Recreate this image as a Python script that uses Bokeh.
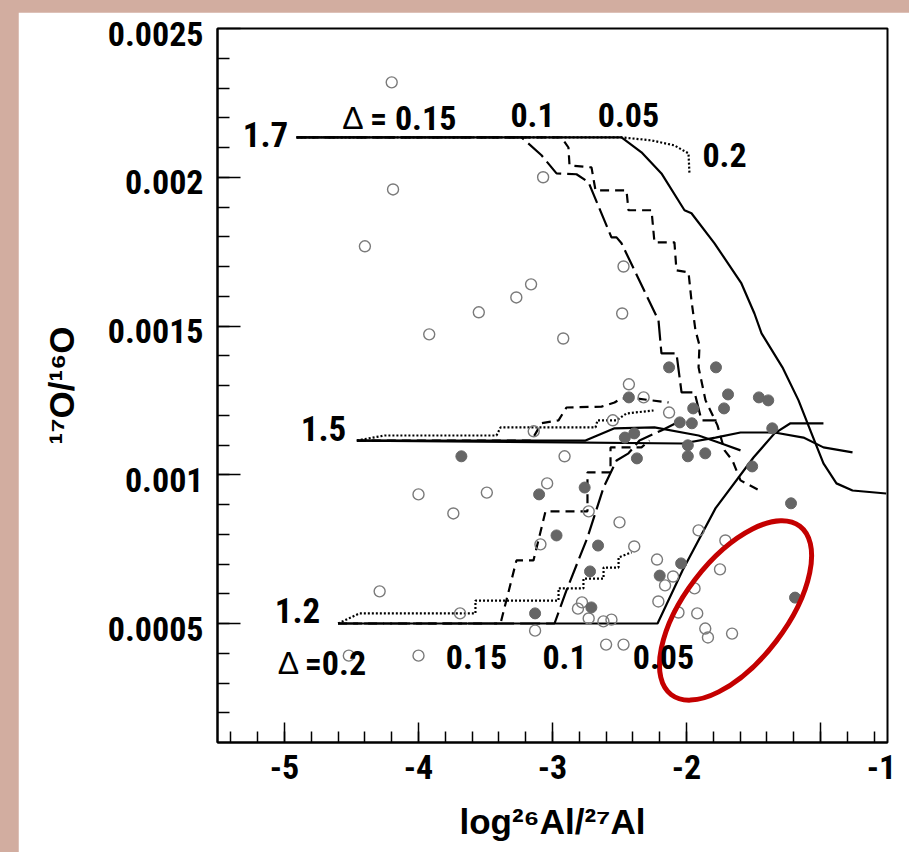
import math
from bokeh.plotting import figure
from bokeh.models import Range1d, FixedTicker, CustomJSTickFormatter, Label, LinearAxis
from bokeh.layouts import column
from bokeh.embed import file_html
from bokeh.resources import INLINE

# ---------------- data ----------------
x_major_ticks = [-5, -4, -3, -2, -1]
x_tick_labels = ["-5", "-4", "-3", "-2", "-1"]
y_major_ticks = [0.0005, 0.001, 0.0015, 0.002, 0.0025]
y_tick_labels = ["0.0005", "0.001", "0.0015", "0.002", "0.0025"]

# model curves starting at 17O/16O labelled 1.7
top_solid_x = [-4.91, -2.485, -2.336, -2.187, -2.015, -1.963, -1.791, -1.590, -1.493, -1.440, -1.284, -1.164, -1.067, -0.978, -0.881, -0.761, -0.51]
top_solid_y = [0.002134, 0.002134, 0.002084, 0.002013, 0.001889, 0.001879, 0.001778, 0.001643, 0.001542, 0.001475, 0.001361, 0.00125, 0.001139, 0.001038, 0.000971, 0.000947, 0.000937]
top_dotted_x = [-4.91, -2.485, -2.261, -2.090, -1.985, -1.978]
top_dotted_y = [0.002134, 0.002134, 0.002124, 0.002107, 0.00208, 0.002013]
top_longdash_x = [-4.91, -3.231, -3.082, -2.970, -2.821, -2.731, -2.560, -2.522, -2.485, -2.388, -2.209, -2.187, -2.075, -2.037, -1.940, -1.888, -1.776]
top_longdash_y = [0.002134, 0.002134, 0.002074, 0.002013, 0.00201, 0.001983, 0.001798, 0.001798, 0.001778, 0.001687, 0.001519, 0.001408, 0.001408, 0.001277, 0.001277, 0.001183, 0.001183]
top_shortdash_x = [-4.91, -2.933, -2.881, -2.873, -2.709, -2.679, -2.448, -2.433, -2.261, -2.239, -2.090, -2.075, -1.985, -1.963, -1.933, -1.903, -1.910, -1.858, -1.769, -1.716, -1.657, -1.597, -1.455]
top_shortdash_y = [0.002134, 0.002134, 0.0021, 0.00204, 0.002033, 0.001956, 0.001956, 0.001889, 0.001889, 0.001781, 0.001781, 0.001687, 0.00168, 0.001586, 0.001485, 0.001435, 0.001361, 0.00125, 0.001166, 0.001082, 0.001048, 0.000981, 0.000947]

# curves starting at 1.5
mid_solid_x = [-4.46, -2.03, -1.784, -1.597, -1.343, -1.127, -0.978, -0.761]
mid_solid_y = [0.001115, 0.001105, 0.001125, 0.001142, 0.001142, 0.001125, 0.001092, 0.001075]
mid_solid2_x = [-4.46, -2.754, -2.537, -2.239, -1.910, -1.739, -1.597]
mid_solid2_y = [0.001115, 0.001115, 0.001156, 0.001159, 0.001132, 0.001105, 0.001082]
mid_shortdash_x = [-4.46, -3.157, -3.082, -2.955, -2.896, -2.634, -2.537, -2.485, -2.388, -2.134]
mid_shortdash_y = [0.001115, 0.001115, 0.001173, 0.001183, 0.001226, 0.001229, 0.001243, 0.001257, 0.001257, 0.001243]
mid_dotted_x = [-4.46, -4.254, -3.418, -3.388, -2.679, -2.664, -2.522, -2.448, -2.246]
mid_dotted_y = [0.001115, 0.001132, 0.001132, 0.001159, 0.001159, 0.001183, 0.001183, 0.001206, 0.001216]

# curves starting at 1.2
low_solid_x = [-4.60, -2.216, -2.03, -1.784, -1.5, -1.343, -1.224, -0.978]
low_solid_y = [0.0005, 0.0005, 0.000678, 0.000887, 0.001058, 0.001139, 0.001173, 0.001173]
low_longdash_x = [-4.60, -2.985, -2.896, -2.739, -2.619, -2.522, -2.433, -2.351, -2.187, -2.037]
low_longdash_y = [0.0005, 0.0005, 0.000611, 0.000789, 0.000957, 0.001048, 0.001072, 0.001115, 0.001149, 0.001183]
low_shortdash_x = [-4.60, -3.388, -3.269, -3.142, -3.052, -2.739, -2.739, -2.567, -2.567, -2.336, -2.276]
low_shortdash_y = [0.0005, 0.0005, 0.000712, 0.000712, 0.000877, 0.000877, 0.001008, 0.001008, 0.001092, 0.001092, 0.001115]
low_dotted_x = [-4.60, -4.440, -3.575, -3.575, -2.955, -2.955, -2.769, -2.769, -2.619, -2.619, -2.507, -2.507, -2.410]
low_dotted_y = [0.0005, 0.000534, 0.000534, 0.000577, 0.000577, 0.000618, 0.000618, 0.000651, 0.000651, 0.000688, 0.000688, 0.000722, 0.000739]

# measured grains
open_x = [-4.20, -4.19, -4.40, -3.07, -2.47, -3.16, -3.27, -3.92, -3.55, -2.92, -2.48, -2.43, -2.32, -2.13,
          -3.14, -2.91, -3.04, -3.49, -4.00, -3.74, -2.73, -2.50, -1.91, -3.09, -2.39, -4.29, -1.71, -2.22,
          -2.10, -2.16, -1.75, -1.94, -2.21, -2.06, -1.92, -2.81, -2.78, -2.73, -2.62, -2.56, -3.13, -3.69,
          -1.86, -1.84, -1.66, -2.60, -2.47, -4.00, -4.52, -2.55]
open_y = [0.002319, 0.001959, 0.001768, 0.00200, 0.00170, 0.00164, 0.001596, 0.001472, 0.001546, 0.001458, 0.001542, 0.001304, 0.00126, 0.001209,
          0.001146, 0.001062, 0.000971, 0.00094, 0.000934, 0.00087, 0.000877, 0.00084, 0.000813, 0.000766, 0.000759, 0.000608, 0.000779, 0.000715,
          0.000658, 0.000628, 0.000682, 0.000618, 0.000574, 0.000537, 0.000534, 0.00055, 0.000571, 0.000517, 0.000507, 0.000513, 0.000476, 0.000534,
          0.000483, 0.000453, 0.000466, 0.000429, 0.000429, 0.000392, 0.000392, 0.001183]
filled_x = [-3.68, -2.13, -1.78, -1.69, -1.72, -1.46, -1.39, -2.43, -1.95, -2.46, -2.39, -2.05, -1.96, -1.99, -1.99,
            -1.86, -2.37, -1.51, -1.36, -3.10, -2.76, -1.22, -2.97, -2.66, -2.72, -2.20, -2.04, -2.71, -3.13, -1.19]
filled_y = [0.001062, 0.001361, 0.001361, 0.00127, 0.001223, 0.00126, 0.00125, 0.00126, 0.001223, 0.001125, 0.001139, 0.001176, 0.001173, 0.001099, 0.001062,
            0.001072, 0.001055, 0.001028, 0.001156, 0.000934, 0.000957, 0.000904, 0.000796, 0.000762, 0.000675, 0.000661, 0.000702, 0.000554, 0.000534, 0.000587]

# ---------------- styling ----------------
NARROW = "'Roboto Condensed', 'Liberation Sans', sans-serif"
WIDE = "'Liberation Sans', Arial, sans-serif"
BG = "#d2ada0"
Y_MIN, Y_MAX = 0.0001, 0.0025
FRAME_H = 714
PIX = (Y_MAX - Y_MIN) / FRAME_H          # data units per screen pixel (vertical)

p = figure(width=891, height=840, x_range=Range1d(-5.5, -0.5), y_range=Range1d(Y_MIN, Y_MAX),
           output_backend="svg", toolbar_location=None,
           min_border_left=199, min_border_right=22, min_border_top=16, min_border_bottom=110,
           margin=(12, 0, 0, 18), background_fill_color="white", border_fill_color="white")
p.grid.visible = False
p.outline_line_color = "black"
p.outline_line_width = 2

NEAREST = ("let b = 0; for (let i = 0; i < t.length; i++) { if (Math.abs(t[i] - tick) < Math.abs(t[b] - tick)) b = i; }"
           " return l[b];")

def bare(ax):
    ax.formatter = CustomJSTickFormatter(code="return '';")
    ax.major_label_text_font_size = "0px"
    ax.major_label_standoff = 0
    ax.axis_line_width = 2
    ax.axis_line_color = "black"
    ax.major_tick_out = 0
    ax.minor_tick_out = 0
    ax.major_tick_line_width = 1.5
    ax.minor_tick_line_width = 1.5

def labels_only(ax, pos, labs):
    ax.ticker = FixedTicker(ticks=pos, minor_ticks=[])
    ax.formatter = CustomJSTickFormatter(args=dict(t=pos, l=labs), code=NEAREST)
    ax.axis_line_color = None
    ax.major_tick_line_color = None
    ax.minor_tick_line_color = None
    ax.major_tick_in = ax.major_tick_out = ax.minor_tick_in = ax.minor_tick_out = 0
    ax.major_label_text_font = NARROW
    ax.major_label_text_font_style = "bold"
    ax.major_label_text_font_size = "34px"
    ax.major_label_text_color = "black"
    ax.axis_label_text_font = WIDE
    ax.axis_label_text_font_style = "bold"
    ax.axis_label_text_font_size = "35px"
    ax.axis_label_text_color = "black"

# x axis: line + inward ticks
xa = p.xaxis[0]
xa.ticker = FixedTicker(ticks=x_major_ticks, minor_ticks=[round(-5.4 + 0.2 * i, 1) for i in range(25)])
bare(xa)
xa.major_tick_in = 20
xa.minor_tick_in = 11
# x tick labels (the "-1" sits at the right frame edge in the original) + title
x_label_pos = [-5, -4, -3, -2, -0.545]
xa2 = LinearAxis()
labels_only(xa2, x_label_pos, x_tick_labels)
xa2.major_label_standoff = 12
xa2.axis_label = "log²⁶Al/²⁷Al"
xa2.axis_label_standoff = 20
p.add_layout(xa2, "below")

# y axis: line + inward ticks
ya = p.yaxis[0]
ya.ticker = FixedTicker(ticks=y_major_ticks, minor_ticks=[round(0.0001 * i, 4) for i in range(2, 25)])
bare(ya)
ya.major_tick_in = 23
ya.minor_tick_in = 12
# y tick labels sit ~5 px below their ticks in the original
y_label_pos = [v - 5 * PIX for v in y_major_ticks]
ya2 = LinearAxis()
labels_only(ya2, y_label_pos, y_tick_labels)
ya2.major_label_standoff = 14
ya2.axis_label = "¹⁷O/¹⁶O"
ya2.axis_label_standoff = 24
p.add_layout(ya2, "left")

# curves
def curve(xs, ys, dash):
    p.line(xs, ys, line_color="black", line_width=2.2, line_dash=dash)

curve(top_dotted_x, top_dotted_y, "2 2")
curve(top_longdash_x, top_longdash_y, "20 6")
curve(top_shortdash_x, top_shortdash_y, "9 6")
curve(top_solid_x, top_solid_y, "solid")
curve(mid_dotted_x, mid_dotted_y, "2 2")
curve(mid_shortdash_x, mid_shortdash_y, "9 6")
curve(mid_solid2_x, mid_solid2_y, "solid")
curve(mid_solid_x, mid_solid_y, "solid")
curve(low_dotted_x, low_dotted_y, "2 2")
curve(low_shortdash_x, low_shortdash_y, "9 6")
curve(low_longdash_x, low_longdash_y, "20 6")
curve(low_solid_x, low_solid_y, "solid")

# grains
p.scatter(open_x, open_y, marker="circle", size=11, fill_color=None, line_color="#7a7a7a", line_width=1.4)
p.scatter(filled_x, filled_y, marker="circle", size=11, fill_color="#666666", line_color="#666666", line_width=1)

# red highlight ellipse
p.ellipse(x=[-1.634], y=[0.000544], width=[212], height=[102], angle=[math.radians(52.6)],
          width_units="screen", height_units="screen", fill_color=None, line_color="#c40000", line_width=5)

# in-plot annotations
def txt(t, x, y, size="34px", style="bold", font=NARROW):
    p.add_layout(Label(x=x, y=y, text=t, text_font=font, text_font_size=size, text_font_style=style,
                       text_align="center", text_baseline="middle", text_color="black"))

txt("1.7", -5.142, 0.002144, "35px")
txt("Δ", -4.49, 0.002198, "32px", "normal", WIDE)
txt("= 0.15", -4.04, 0.002198)
txt("0.1", -3.149, 0.002208)
txt("0.05", -2.433, 0.002208)
txt("0.2", -1.716, 0.002074)
txt("1.5", -4.709, 0.001156, "35px")
txt("1.2", -4.903, 0.000544, "35px")
txt("Δ", -4.97, 0.000366, "32px", "normal", WIDE)
txt("=0.2", -4.62, 0.000366)
txt("0.15", -3.567, 0.000386)
txt("0.1", -2.910, 0.000386)
txt("0.05", -2.172, 0.000386)

layout = column(p, styles={"background-color": BG})
open("out.html", "w").write(file_html(layout, INLINE))
